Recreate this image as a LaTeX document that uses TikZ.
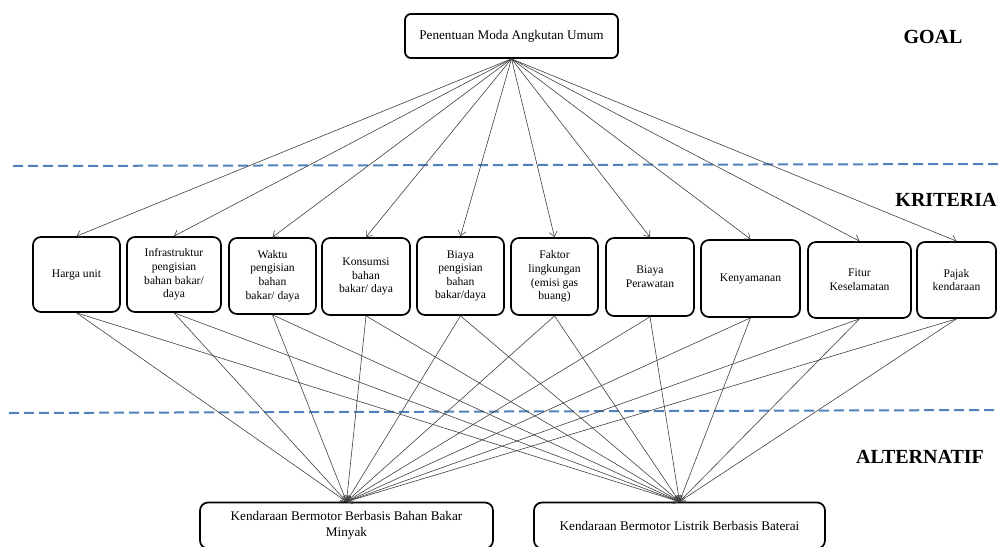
\documentclass[tikz,border=0pt]{standalone}
\usepackage{fontspec}
\setmainfont{Liberation Serif}
\usepackage{xcolor}
\usetikzlibrary{calc,
	positioning,
	arrows.meta}
\definecolor{sepblue}{RGB}{79,129,189}
\tikzset{
	crit/.style={draw, line width=1.7pt, rounded corners=8pt, align=center, inner sep=1pt,
		font=\fontsize{11.6}{13.6}\selectfont},
	goalbox/.style={draw, line width=1.7pt, rounded corners=6pt, align=center,
		font=\fontsize{13.2}{16}\selectfont, minimum width=213pt, minimum height=44pt},
	altbox/.style={draw, line width=1.7pt, rounded corners=8pt, align=center,
		font=\fontsize{13.2}{16}\selectfont, minimum height=46pt},
	lvl/.style={font=\fontsize{20}{24}\selectfont\bfseries},
	sepline/.style={sepblue, line width=2pt, dash pattern=on 10pt off 5pt},
	link/.style={black!75, line width=0.6pt, -{Straight Barb[length=5pt,width=8pt]}}
}

\begin{document}
\begin{tikzpicture}[x=1pt, y=-1pt]
	\useasboundingbox (0, 0) rectangle (998, 546);
	% separators
	\draw[sepline] (13, 166) -- (998, 164);
	\draw[sepline] (9, 413) -- (998, 410);
	% level labels
	\node[lvl] (lgoal) at (933, 37) {GOAL};
	\node[lvl] (lkrit) at (946, 200) {KRITERIA};
	\node[lvl] (lalt) at (920, 457) {ALTERNATIF};
	% goal
	\node[goalbox] (goal) at (511.5, 36) {Penentuan Moda Angkutan Umum};
	% kriteria
	\node[crit, minimum width=87pt, minimum height=75pt] (c1) at (76.5, 274.5) {Harga unit};
	\node[crit, minimum width=94pt, minimum height=75pt] (c2) at (174, 274.5) {Infrastruktur\\pengisian\\bahan bakar/\\daya};
	\node[crit, minimum width=87pt, minimum height=76pt] (c3) at (272.5, 276) {Waktu\\pengisian\\bahan\\bakar/ daya};
	\node[crit, minimum width=88pt, minimum height=77pt] (c4) at (366, 276.5) {Konsumsi\\bahan\\bakar/ daya};
	\node[crit, minimum width=87pt, minimum height=78pt] (c5) at (460.5, 276) {Biaya\\pengisian\\bahan\\bakar/daya};
	\node[crit, minimum width=87pt, minimum height=77pt] (c6) at (554.5, 276.5) {Faktor\\lingkungan\\(emisi gas\\buang)};
	\node[crit, minimum width=88pt, minimum height=78pt] (c7) at (650, 277) {Biaya\\Perawatan};
	\node[crit, minimum width=99pt, minimum height=77pt] (c8) at (750.5, 278.5) {Kenyamanan};
	\node[crit, minimum width=103pt, minimum height=76pt] (c9) at (859.5, 280) {Fitur\\Keselamatan};
	\node[crit, minimum width=79pt, minimum height=76pt] (c10) at (956.5, 280) {Pajak\\kendaraan};
	% alternatif
	\node[altbox, minimum width=293pt] (a1) at (346.5, 525.5) {Kendaraan Bermotor Berbasis Bahan Bakar\\Minyak};
	\node[altbox, minimum width=291pt] (a2) at (679.5, 525.5) {Kendaraan Bermotor Listrik Berbasis Baterai};
	% connectors
	\foreach \k in {1,...,10} {
		\draw[link] (goal.south) -- (c\k.north);
		\draw[link] (c\k.south) -- (a1.north);
		\draw[link] (c\k.south) -- (a2.north);
	}
\end{tikzpicture}
\end{document}
